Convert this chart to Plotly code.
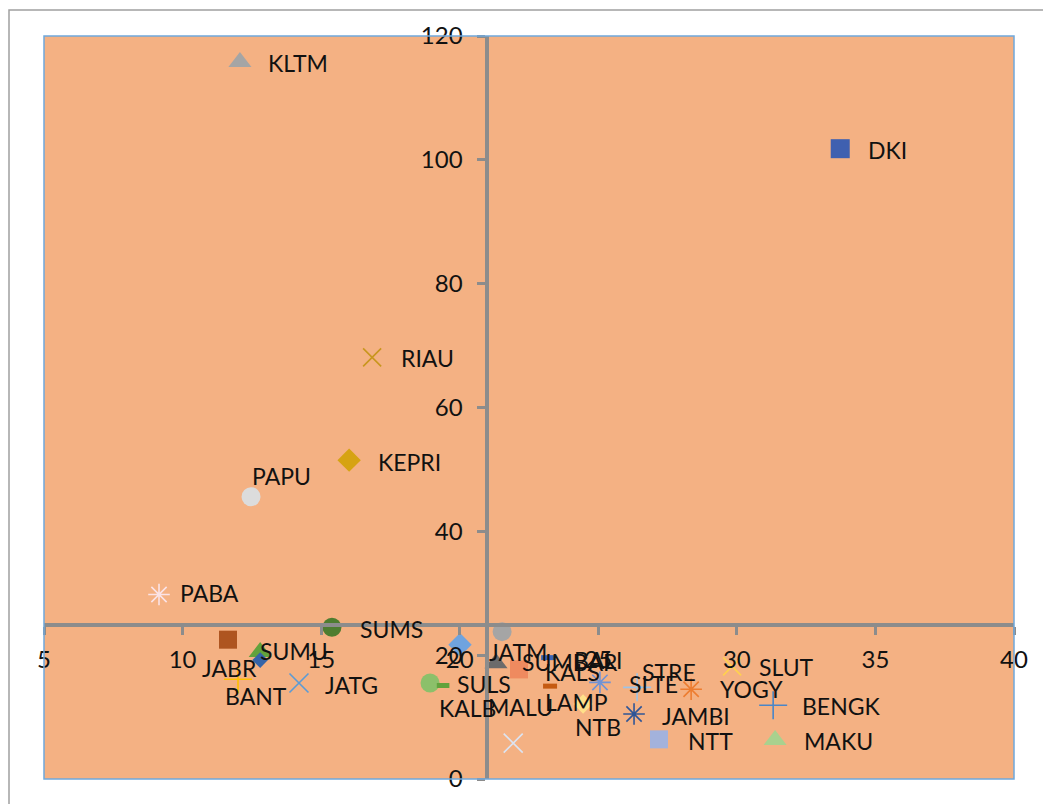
import plotly.graph_objects as go

# ---- data ----
provinces = ["KLTM", "DKI", "RIAU", "KEPRI", "PAPU", "PABA", "SUMS", "JABR", "SUMU", "", "BANT",
             "JATG", "", "SULS", "KALB", "JATM", "MALU", "", "KALS", "SUMBAR", "BALI", "LAMP",
             "NTB", "SLTE", "STRE", "JAMBI", "YOGY", "SLUT", "BENGK", "NTT", "MAKU"]
x_vals = [12.07, 33.73, 16.84, 16.01, 12.47, 9.15, 15.39, 11.64, 12.80, 12.80, 12.00,
          14.20, 20.01, 18.93, 19.40, 21.53, 21.31, 21.93, 22.20, 22.14, 23.19, 23.26,
          24.45, 25.06, 26.40, 26.29, 28.35, 29.83, 31.31, 27.19, 31.38]
y_vals = [115.8, 101.8, 68.1, 51.5, 45.6, 29.8, 24.5, 22.5, 20.5, 19.2, 16.1,
          15.5, 21.7, 15.5, 15.1, 23.8, 18.7, 5.8, 17.5, 17.7, 19.6, 15.0,
          12.1, 15.6, 14.8, 10.5, 14.5, 18.2, 11.9, 6.4, 6.3]
x_cross = 21.0
y_cross = 24.8
x_ticks = [5, 10, 15, 20, 25, 30, 35, 40]
y_ticks = [0, 20, 40, 60, 80, 100, 120]

# ---- styles: (symbol, color, size, line width) per point ----
styles = [
    ("triangle-up", "#A5A5A5", 20, 0),
    ("square", "#3F60B0", 19, 0),
    ("x-thin-open", "#C8961E", 18, 1.6),
    ("diamond", "#D6A312", 18, 0),
    ("circle", "#DCDCDC", 19, 0),
    ("asterisk-open", "#FBE3E6", 18, 1.6),
    ("circle", "#4E7D30", 19, 0),
    ("square", "#AE5520", 18, 0),
    ("triangle-up", "#62A23C", 20, 0),
    ("diamond", "#3564A8", 12, 0),
    ("cross-thin-open", "#FFC000", 20, 1.6),
    ("x-thin-open", "#5B9BD5", 19, 1.6),
    ("diamond", "#6FA3DE", 18, 0),
    ("circle", "#8CC06A", 19, 0),
    ("line-ew-open", "#62A23C", 9, 5),
    ("circle", "#A5A5A5", 19, 0),
    ("triangle-up", "#6B6B6B", 20, 0),
    ("x-thin-open", "#DCE4F2", 19, 1.6),
    ("diamond", "#8FAADC", 10, 0),
    ("square", "#EF8A5F", 18, 0),
    ("line-ew-open", "#3B63B5", 10, 5),
    ("line-ew-open", "#C55A11", 10, 5),
    ("diamond", "#FFE08A", 15, 0),
    ("asterisk-open", "#7093D6", 18, 1.6),
    ("cross-thin-open", "#9DC3E6", 20, 1.6),
    ("asterisk-open", "#2F5597", 18, 1.6),
    ("asterisk-open", "#ED7D31", 18, 1.6),
    ("x-thin-open", "#FFD24D", 18, 1.6),
    ("cross-thin-open", "#4A86C8", 20, 1.6),
    ("square", "#A3B2DC", 18, 0),
    ("triangle-up", "#A9D18E", 20, 0),
]
# label offsets in pixels (left edge dx, center dy; +dy is downward)
label_off = [
    (26, 1), (26, 1), (27, 1), (27, 2), (-1, -21), (19, -1), (26, 2), (-28, 28), (-2, -1), (0, 0), (-15, 17),
    (24, 2), (0, 0), (25, 1), (-6, 22), (-15, 20), (-10, 44), (0, 0), (22, 1), (1, -7), (24, 2), (-7, 16),
    (-10, 23), (27, 2), (3, -15), (26, 2), (27, 0), (25, 1), (27, 1), (27, 2), (27, 1),
]

FONT = "Lato"
LABEL_SIZE = 23
TICK_SIZE = 24
fig = go.Figure()
for name, xv, yv, (sym, col, size, lw) in zip(provinces, x_vals, y_vals, styles):
    fig.add_trace(go.Scatter(
        x=[xv], y=[yv], mode="markers", name=name or "-", showlegend=False,
        marker=dict(symbol=sym, color=col, size=size,
                    line=dict(color=col, width=lw)),
        hoverinfo="skip"))

annotations = []
for name, xv, yv, (dx, dy) in zip(provinces, x_vals, y_vals, label_off):
    if not name:
        continue
    annotations.append(dict(
        x=xv, y=yv, xref="x", yref="y", text=name, showarrow=False,
        xanchor="left", yanchor="middle", xshift=dx, yshift=-dy,
        font=dict(family=FONT, size=LABEL_SIZE, color="#111111")))

xmin, xmax, ymin, ymax = 5, 40, 0, 120
fig.update_layout(
    width=1043, height=796,
    margin=dict(l=36, r=37, t=27, b=24),
    paper_bgcolor="white", plot_bgcolor="#F4B183",
    font=dict(family=FONT, size=TICK_SIZE, color="#111111"),
    showlegend=False,
    annotations=annotations,
    xaxis=dict(range=[xmin, xmax], tickvals=x_ticks, showgrid=False, zeroline=False,
               showline=True, linecolor="#8C8C8C", linewidth=4,
               anchor="free", position=(y_cross - ymin) / (ymax - ymin),
               ticks="outside", ticklen=8, tickwidth=3, tickcolor="#8C8C8C",
               ticklabelstandoff=4, tickfont=dict(family=FONT, size=TICK_SIZE, color="#111111")),
    yaxis=dict(range=[ymin, ymax], tickvals=y_ticks, showgrid=False, zeroline=False,
               showline=True, linecolor="#8C8C8C", linewidth=4,
               anchor="free", position=(x_cross - xmin) / (xmax - xmin),
               ticks="outside", ticklen=8, tickwidth=3, tickcolor="#8C8C8C",
               ticklabelstandoff=10, tickfont=dict(family=FONT, size=TICK_SIZE, color="#111111")),
    shapes=[
        dict(type="rect", xref="paper", yref="paper", x0=0, x1=1, y0=0, y1=1,
             line=dict(color="#6FA8DC", width=1.5), layer="above"),
        dict(type="rect", xref="paper", yref="paper", x0=-35 / 970, x1=1.06, y0=-0.05,
             y1=1 + 26 / 745, line=dict(color="#A0A0A0", width=1.5), layer="below"),
    ],
)

fig.write_html("out.html")
